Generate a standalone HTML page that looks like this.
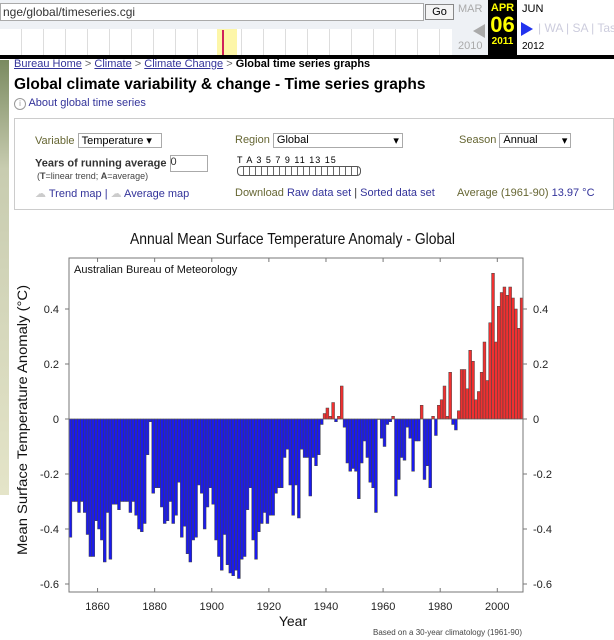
<!DOCTYPE html>
<html><head><meta charset="utf-8">
<style>
body{margin:0;width:614px;height:640px;overflow:hidden;background:#fff;font-family:"Liberation Sans",sans-serif;position:relative}
.a{position:absolute;white-space:nowrap}
a,.lnk{color:#33339a}
</style></head><body>
<div class="a" style="left:0;top:0;width:614px;height:55px;background:#eef1f5"></div>
<div class="a" style="left:0;top:3px;width:420px;height:16px;background:#fff;border:1px solid #aaa;font-size:12px;color:#333;line-height:16px;padding-left:2px">nge/global/timeseries.cgi</div>
<div class="a" style="left:425px;top:4px;width:27px;height:14px;border:1px solid #888;background:#f4f4f4;font-size:11px;text-align:center;line-height:14px">Go</div>
<div class="a" style="left:0;top:29px;width:452px;height:26px;background:#fff;background-image:repeating-linear-gradient(90deg,transparent 0 21px,#ddd 21px 22px)"></div>
<div class="a" style="left:217px;top:29px;width:20px;height:26px;background:#fdf6a8"></div>
<div class="a" style="left:222px;top:30px;width:2px;height:25px;background:#d0205a"></div>
<div class="a" style="left:458px;top:3px;font-size:11px;color:#aaa">MAR</div>
<div class="a" style="left:458px;top:40px;font-size:11px;color:#aaa">2010</div>
<div class="a" style="left:473px;top:24px;width:0;height:0;border-top:7px solid transparent;border-bottom:7px solid transparent;border-right:12px solid #aaa"></div>
<div class="a" style="left:488px;top:0;width:29px;height:55px;background:#000;color:#ff0;text-align:center;font-weight:bold">
<div style="font-size:11px;margin-top:2px">APR</div><div style="font-size:22px;line-height:22px">06</div><div style="font-size:10px">2011</div></div>
<div class="a" style="left:517px;top:0;width:97px;height:55px;background:#fff"></div>
<div class="a" style="left:522px;top:3px;font-size:11px">JUN</div>
<div class="a" style="left:522px;top:41px;font-size:10px">2012</div>
<div class="a" style="left:521px;top:22px;border-top:7px solid transparent;border-bottom:7px solid transparent;border-left:12px solid #2233ee"></div>
<div class="a" style="left:538px;top:21px;font-size:12px;color:#ccd">| WA | SA | Tas.</div>
<div class="a" style="left:0;top:55px;width:614px;height:4px;background:#000"></div>
<div class="a" style="left:0;top:60px;width:9px;height:435px;background:linear-gradient(#7a8a60,#c8ccb0 25%,#e4e4c8)"></div>
<div class="a" style="left:14px;top:58px;font-size:11px;color:#666"><span class="lnk" style="text-decoration:underline">Bureau Home</span> &gt; <span class="lnk" style="text-decoration:underline">Climate</span> &gt; <span class="lnk" style="text-decoration:underline">Climate Change</span> &gt; <b style="color:#000">Global time series graphs</b></div>
<div class="a" style="left:14px;top:76px;font-size:15.5px;font-weight:bold">Global climate variability &amp; change - Time series graphs</div>
<div class="a" style="left:14px;top:97px;font-size:11px;color:#33339a"><span style="display:inline-block;width:10px;height:10px;border:1px solid #999;border-radius:50%;font-size:8px;text-align:center;line-height:10px;color:#999">i</span> About global time series</div>
<div class="a" style="left:14px;top:118px;width:600px;height:92px;border:1px solid #ccc;box-sizing:border-box;font-size:11px">
<div class="a" style="left:20px;top:14px;color:#663"><span>Variable</span> <span style="display:inline-block;border:1px solid #aaa;padding:0 3px;color:#000;width:76px">Temperature ▾</span></div>
<div class="a" style="left:20px;top:36px;font-weight:bold;color:#333"><span>Years of running average</span> <span style="display:inline-block;border:1px solid #aaa;width:36px;height:15px;font-weight:normal;vertical-align:middle">0</span></div>
<div class="a" style="left:22px;top:52px;font-size:9px;color:#444">(<b>T</b>=linear trend; <b>A</b>=average)</div>
<div class="a" style="left:20px;top:68px;color:#33339a"><span style="color:#ccc">☁</span> Trend map | <span style="color:#ccc">☁</span> Average map</div>
<div class="a" style="left:220px;top:14px;color:#663"><span>Region</span> <span style="display:inline-block;border:1px solid #aaa;padding:0 3px;color:#000;width:122px">Global<span style="float:right">▾</span></span></div>
<div class="a" style="left:222px;top:36px;font-size:9px;letter-spacing:1px;width:124px"><div>T A 3 5 7 9 11 13 15</div><div style="height:8px;border:1px solid #555;border-radius:4px;margin-top:1px;background:repeating-linear-gradient(90deg,#fff 0 5px,#666 5px 6px)"></div></div>
<div class="a" style="left:220px;top:68px;color:#333"><b style="font-weight:normal;color:#663">Download</b> <span class="lnk">Raw data set</span> | <span class="lnk">Sorted data set</span></div>
<div class="a" style="left:444px;top:14px;color:#663"><span>Season</span> <span style="display:inline-block;border:1px solid #aaa;padding:0 3px;color:#000;width:64px">Annual<span style="float:right">▾</span></span></div>
<div class="a" style="left:442px;top:68px;color:#663">Average (1961-90) <span class="lnk">13.97 °C</span></div>
</div>
<svg class="a" style="left:0;top:0" width="614" height="640" font-family="Liberation Sans, sans-serif">
<g id="g"></g>
</svg>
<script>
const years0 = 1850;
const values = [-0.43,-0.30,-0.30,-0.34,-0.30,-0.34,-0.42,-0.50,-0.50,-0.37,-0.40,-0.44,-0.52,-0.34,-0.51,-0.31,-0.31,-0.33,-0.30,-0.30,-0.30,-0.34,-0.30,-0.35,-0.40,-0.41,-0.38,-0.13,-0.01,-0.27,-0.25,-0.25,-0.32,-0.38,-0.37,-0.30,-0.38,-0.35,-0.23,-0.43,-0.39,-0.49,-0.52,-0.44,-0.43,-0.24,-0.27,-0.40,-0.32,-0.25,-0.31,-0.44,-0.50,-0.55,-0.42,-0.53,-0.56,-0.57,-0.55,-0.58,-0.51,-0.50,-0.33,-0.25,-0.44,-0.51,-0.41,-0.38,-0.34,-0.38,-0.35,-0.35,-0.27,-0.25,-0.25,-0.14,-0.11,-0.24,-0.35,
-0.24,-0.36,-0.11,-0.14,-0.14,-0.28,-0.14,-0.17,-0.13,-0.02,0.02,0.04,0.01,0.06,-0.01,0.01,0.12,-0.03,-0.16,-0.19,-0.18,-0.19,-0.29,-0.16,-0.08,-0.14,-0.23,-0.25,-0.34,0.00,-0.07,-0.10,-0.02,-0.01,0.01,-0.28,-0.22,-0.14,-0.15,-0.03,-0.07,-0.19,-0.08,-0.08,0.05,-0.22,-0.17,-0.25,0.01,-0.06,0.05,0.07,0.12,0.01,0.17,-0.02,-0.04,0.03,0.18,0.18,0.11,0.25,0.21,0.07,0.10,0.17,0.28,0.14,0.35,0.53,0.28,0.41,0.46,0.48,0.45,0.48,0.44,0.40,0.33,0.44];
const xTicks = [1860,1880,1900,1920,1940,1960,1980,2000];
const yTicks = [0.4,0.2,0,-0.2,-0.4,-0.6];
const L=69,R=523,T=258,B=592;
const n=values.length;
const x=yr=>L+(yr-years0)*(R-L)/n;
const y=v=>419-v*275;
const g=document.getElementById('g');
const NS='http://www.w3.org/2000/svg';
function mk(t,a){const e=document.createElementNS(NS,t);for(const k in a)e.setAttribute(k,a[k]);g.appendChild(e);return e;}
values.forEach((v,i)=>{
  const r=mk('rect',{x:x(years0+i),y:Math.min(y(v),y(0)),width:(R-L)/n,height:Math.max(Math.abs(y(v)-y(0)),0.5),fill:v>=0?'#f03030':'#1a1aee',stroke:'#444','stroke-width':0.5});
  
  
});
const fr=mk('rect',{x:L,y:T,width:R-L,height:B-T,fill:'none',stroke:'#777','stroke-width':1});


mk('line',{x1:L,x2:R,y1:y(0),y2:y(0),stroke:'#666','stroke-width':0.6});
xTicks.forEach(t=>{
  mk('line',{x1:x(t),x2:x(t),y1:B,y2:B-4,stroke:'#777'});
  mk('line',{x1:x(t),x2:x(t),y1:T,y2:T+4,stroke:'#777'});
  const e=mk('text',{x:x(t),y:B+18,'font-size':11,'text-anchor':'middle',fill:'#222'});e.textContent=t;
  
  
});
yTicks.forEach(t=>{
  mk('line',{x1:L,x2:L-4,y1:y(t),y2:y(t),stroke:'#777'});
  mk('line',{x1:R,x2:R+4,y1:y(t),y2:y(t),stroke:'#777'});
  const s=t===0?'0':t.toFixed(1);
  const a=mk('text',{x:L-10,y:y(t)+4,'font-size':11,'text-anchor':'end',fill:'#222'});a.textContent=s;
  
  
  const b=mk('text',{x:R+10,y:y(t)+4,'font-size':11,'text-anchor':'start',fill:'#222'});b.textContent=s;
  
  
});
let e=mk('text',{x:130,y:244,'font-size':16,fill:'#111',textLength:325,lengthAdjust:'spacingAndGlyphs'});e.textContent='Annual Mean Surface Temperature Anomaly - Global';


e=mk('text',{x:74,y:273,'font-size':11,fill:'#111'});e.textContent='Australian Bureau of Meteorology';


e=mk('text',{x:293,y:626,'font-size':14,'text-anchor':'middle',fill:'#111'});e.textContent='Year';


e=mk('text',{x:-135,y:0,'font-size':14,fill:'#111',textLength:270,lengthAdjust:'spacingAndGlyphs',transform:'translate(27,420) rotate(-90)'});e.textContent='Mean Surface Temperature Anomaly (°C)';


e=mk('text',{x:522,y:635,'font-size':8,'text-anchor':'end',fill:'#444'});e.textContent='Based on a 30-year climatology (1961-90)';


</script>
</body></html>
